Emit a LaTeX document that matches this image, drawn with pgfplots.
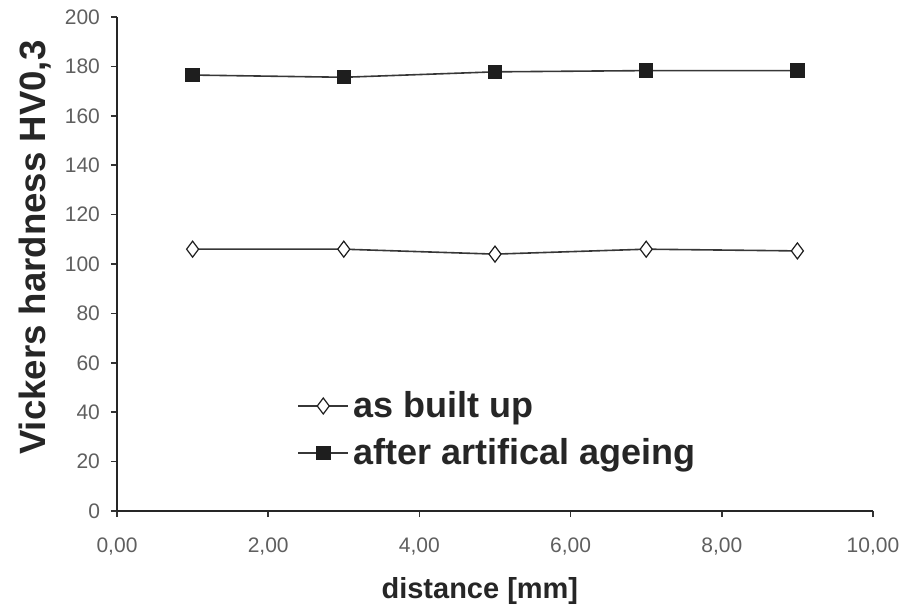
\documentclass[border=0pt]{standalone}
\usepackage{fontspec}
\setmainfont{Liberation Sans}
\usepackage{pgfplots}
\pgfplotsset{compat=1.18}
\definecolor{linegray}{RGB}{55,55,55}
\definecolor{markdark}{RGB}{30,30,30}
\definecolor{ticktext}{RGB}{95,95,95}

\begin{document}
\begin{tikzpicture}
% page frame, 1px of the reference = 0.5pt
\path (-58.5pt,-50.5pt) rectangle (395pt,255.5pt);
\begin{axis}[
    scale only axis, width=378pt, height=247pt,
    xmin=0, xmax=10, ymin=0, ymax=200,
    axis x line*=bottom, axis y line*=left,
    axis line style={line width=0.9pt, black!85},
    xtick={0,2,...,10}, ytick={0,20,...,200},
    tick align=outside, major tick length=3pt,
    tick style={line width=0.8pt, black!80},
    /pgf/number format/assume math mode=true,
    tick label style={font=\fontsize{10.5}{12}\selectfont, text=ticktext},
    x tick label style={yshift=-7pt, /pgf/number format/.cd, fixed, fixed zerofill, precision=2, use comma},
    y tick label style={xshift=-2pt},
    xlabel={distance [mm]},
    ylabel={Vickers hardness HV0,3},
    xlabel style={at={(rel axis cs:0.48,0)}, anchor=center, yshift=-40pt,
        font=\bfseries\fontsize{14.5}{18}\selectfont, text=black!85},
    ylabel style={at={(rel axis cs:0,0.533)}, anchor=center, yshift=41pt,
        font=\bfseries\fontsize{18.3}{20}\selectfont, text=black!85},
    legend style={draw=none, fill=none, at={(rel axis cs:0.23,0.259)}, anchor=north west,
        font=\bfseries\fontsize{18}{22}\selectfont, text=black!85, row sep=5pt},
    legend cell align=left,
    legend image code/.code={
        \draw[mark repeat=2, mark phase=2, line width=1pt] plot coordinates {(0pt,0pt) (12.5pt,0pt) (25pt,0pt)};
    },
]
\addplot[linegray, line width=0.8pt, mark=diamond*, mark size=4pt,
    mark options={fill=white, draw=markdark, line width=0.6pt}]
    coordinates {(1,106.0) (3,106.0) (5,104.0) (7,106.0) (9,105.3)};
\addlegendentry{as built up}
\addplot[linegray, line width=0.8pt, mark=square*, mark size=3.2pt,
    mark options={fill=markdark, draw=markdark}]
    coordinates {(1,176.5) (3,175.6) (5,177.8) (7,178.3) (9,178.3)};
\addlegendentry{after artifical ageing}
\end{axis}
\end{tikzpicture}
\end{document}
